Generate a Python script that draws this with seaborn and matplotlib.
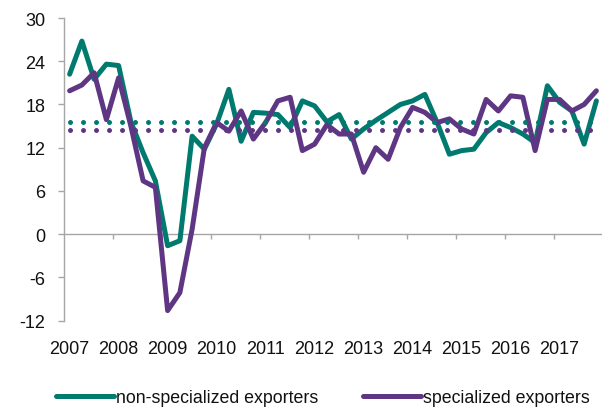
import numpy as np
import pandas as pd
import matplotlib
matplotlib.use("Agg")
import matplotlib.pyplot as plt
import seaborn as sns

# ---- data (quarterly, 2007Q1 .. 2017Q4) ----
years = [str(y) for y in range(2007, 2018)]
quarters = [f"{y}Q{q}" for y in range(2007, 2018) for q in range(1, 5)]

non_specialized = [22.2, 26.8, 21.5, 23.6, 23.4, 15.6, 11.3, 7.4, -1.6, -0.9,
                   13.6, 11.8, 15.3, 20.1, 12.9, 16.9, 16.8, 16.6, 14.8, 18.5,
                   17.8, 15.6, 16.6, 13.2, 14.6, 15.8, 16.9, 18.0, 18.5, 19.4,
                   15.5, 11.1, 11.6, 11.8, 14.1, 15.5, 14.8, 13.9, 12.7, 20.6,
                   18.3, 17.1, 12.5, 18.5]
specialized = [19.9, 20.7, 22.4, 15.9, 21.7, 15.0, 7.4, 6.5, -10.6, -8.1,
               0.7, 12.0, 15.5, 14.3, 17.1, 13.2, 15.5, 18.5, 19.0, 11.6,
               12.5, 15.2, 13.9, 13.9, 8.6, 12.0, 10.4, 14.8, 17.6, 16.9,
               15.5, 16.0, 14.6, 13.9, 18.7, 17.1, 19.2, 19.0, 11.6, 18.7,
               18.7, 17.1, 18.0, 19.9]
non_specialized_avg = 15.6
specialized_avg = 14.5

series_names = ["non-specialized exporters", "specialized exporters"]
y_ticks = [-12, -6, 0, 6, 12, 18, 24, 30]

TEAL = "#007A6E"
PURPLE = "#5E3683"
GREY = "#A6A6A6"

df = pd.DataFrame({
    "t": np.arange(len(quarters)),
    "quarter": quarters,
    "non": non_specialized,
    "spec": specialized,
    "non_avg": non_specialized_avg,
    "spec_avg": specialized_avg,
})

sns.set_theme(style="white")
plt.rcParams["font.family"] = ["Liberation Sans", "DejaVu Sans"]

W, H = 602, 414
fig = plt.figure(figsize=(W / 100, H / 100), dpi=100)
left_px, right_px, top_px, bot_px = 63.5, 602.5, 19.0, 321.7
ax = fig.add_axes([left_px / W, 1 - bot_px / H, (right_px - left_px) / W, (bot_px - top_px) / H])

lw = 3.6
sns.lineplot(data=df, x="t", y="non", color=TEAL, lw=lw, ax=ax, legend=False,
             solid_joinstyle="round", label=series_names[0])
sns.lineplot(data=df, x="t", y="spec", color=PURPLE, lw=lw, ax=ax, legend=False,
             solid_joinstyle="round", label=series_names[1])

dot_lw = 3.6
gap = 13.0 / (dot_lw * 100 / 72) - 0.01
sns.lineplot(data=df, x="t", y="non_avg", color=TEAL, lw=dot_lw, ax=ax, legend=False,
             linestyle=(0, (0.01, gap)), dash_capstyle="round")
sns.lineplot(data=df, x="t", y="spec_avg", color=PURPLE, lw=dot_lw, ax=ax, legend=False,
             linestyle=(0, (0.01, gap)), dash_capstyle="round")

ax.set_xlim(-0.5, len(quarters) - 0.5)
ax.set_ylim(-12, 30)
ax.set_xlabel("")
ax.set_ylabel("")

# y axis
ax.set_yticks(y_ticks)
ax.set_yticklabels([str(v) for v in y_ticks])
ax.tick_params(axis="y", direction="out", length=5.7 * 72 / 100, width=1.0, color=GREY,
               pad=9.0, labelsize=13, labelcolor="#111111", left=True)
for side in ["top", "right", "bottom"]:
    ax.spines[side].set_visible(False)
ax.spines["left"].set_color(GREY)
ax.spines["left"].set_linewidth(1.0)

# x labels (years at the first quarter of each year)
ax.set_xticks(np.arange(0, len(quarters), 4))
ax.set_xticklabels(years)
ax.tick_params(axis="x", length=0, pad=14, labelsize=13, labelcolor="#111111")

# horizontal axis line at zero with year-boundary tick marks
zero_loc = (0 - (-12)) / (30 - (-12))
sec = ax.secondary_xaxis(zero_loc)
sec.set_xticks(np.arange(3.5, len(quarters) - 0.5, 4))
sec.set_xticklabels([])
sec.tick_params(axis="x", direction="out", length=5.0 * 72 / 100, width=1.0, color=GREY)
sec.spines["bottom"].set_color(GREY)
sec.spines["bottom"].set_linewidth(1.0)
for side in ["top", "left", "right"]:
    if side in sec.spines:
        sec.spines[side].set_visible(False)

# legend
handles = [ax.lines[0], ax.lines[1]]
leg = fig.legend(handles, series_names, loc="center", bbox_to_anchor=(323 / W, 1 - 399 / H),
                 ncol=2, frameon=False, fontsize=12.8, handlelength=3.25, handletextpad=0.12,
                 columnspacing=2.5, borderaxespad=0, borderpad=0)
for t in leg.get_texts():
    t.set_color("#111111")
for l in leg.get_lines():
    l.set_linewidth(3.6)
    l.set_solid_capstyle("round")

fig.savefig("out.png", dpi=100)
